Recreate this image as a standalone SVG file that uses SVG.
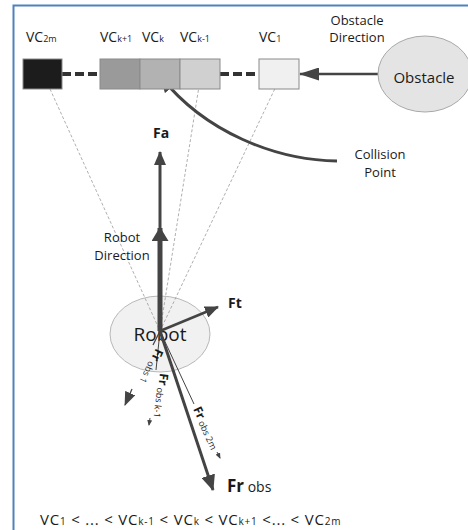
<svg xmlns="http://www.w3.org/2000/svg" width="468" height="530" viewBox="0 0 468 530">
<style>
text{font-family:"Open Sans","Liberation Sans",sans-serif;fill:#1a1a1a;}
.lbl{font-size:14px;}
.two{font-size:13px;}
.sub{font-size:9px;}
.b{font-weight:bold;}
.ray{stroke:#9a9a9a;stroke-width:0.8;stroke-dasharray:3 2;fill:none;}
.link{stroke:#333;stroke-width:4;stroke-dasharray:9 4;fill:none;}
.box{stroke:#8a8a8a;stroke-width:1;}
.force{stroke:#444;fill:none;}
</style>
<defs>
<marker id="hL" markerUnits="userSpaceOnUse" markerWidth="16" markerHeight="14" viewBox="0 0 16 14" refX="15" refY="7" orient="auto"><path d="M0,0 L16,7 L0,14 z" fill="#444"/></marker>
<marker id="hM" markerUnits="userSpaceOnUse" markerWidth="14" markerHeight="12" viewBox="0 0 14 12" refX="13" refY="6" orient="auto"><path d="M0,0 L14,6 L0,12 z" fill="#444"/></marker>
<marker id="hRD" markerUnits="userSpaceOnUse" markerWidth="14" markerHeight="17" viewBox="0 0 14 17" refX="13" refY="8.5" orient="auto"><path d="M0,0 L14,8.5 L0,17 z" fill="#444"/></marker>
<marker id="hO" markerUnits="userSpaceOnUse" markerWidth="20" markerHeight="13" viewBox="0 0 20 13" refX="19" refY="6.5" orient="auto"><path d="M0,0 L20,6.5 L0,13 z" fill="#444"/></marker>
<marker id="hS" markerUnits="userSpaceOnUse" markerWidth="14" markerHeight="11" viewBox="0 0 14 11" refX="13" refY="5.5" orient="auto"><path d="M0,0 L14,5.5 L0,11 z" fill="#444"/></marker>
<marker id="hT" markerUnits="userSpaceOnUse" markerWidth="6" markerHeight="5" viewBox="0 0 6 5" refX="5" refY="2.5" orient="auto"><path d="M0,0 L6,2.5 L0,5 z" fill="#444"/></marker>
</defs>
<rect width="468" height="530" fill="#fff"/>
<path d="M13.5,530 V5.5 H468" fill="none" stroke="#4f81bd" stroke-width="2"/>

<g id="robot">
<ellipse cx="160" cy="334" rx="50" ry="38" fill="#f1f1f1" stroke="#b8b8b8" stroke-width="1"/>
<text x="160" y="341" text-anchor="middle" style="font-size:19px">Robot</text>
</g>

<g id="connectors">
<line class="ray" x1="50" y1="89" x2="160" y2="331"/>
<line class="ray" x1="200" y1="80" x2="160" y2="331"/>
<line class="ray" x1="279" y1="80" x2="160" y2="331"/>
<line class="link" x1="62" y1="74" x2="100" y2="74"/>
<line class="link" x1="220" y1="74" x2="259" y2="74"/>
<line class="force" stroke-width="2.5" x1="378" y1="74" x2="300" y2="74" marker-end="url(#hO)"/>
<path class="force" stroke-width="3" d="M337,161 C275,160 205,132 161,77" marker-end="url(#hL)"/>
<line class="force" stroke-width="5" x1="160" y1="331" x2="160" y2="228" marker-end="url(#hRD)"/>
<line class="force" stroke-width="3" x1="160" y1="240" x2="160" y2="152" marker-end="url(#hM)"/>
<line class="force" stroke-width="2.5" x1="160" y1="331" x2="218" y2="307" marker-end="url(#hM)"/>
<line class="force" stroke-width="3" x1="160" y1="331" x2="213" y2="490" marker-end="url(#hL)"/>
<line class="force" stroke-width="1.2" x1="160" y1="331" x2="153" y2="345"/>
<line class="force" stroke-width="1.2" x1="132" y1="389" x2="125" y2="405" marker-end="url(#hS)"/>
<line class="force" stroke-width="1" x1="160" y1="331" x2="156" y2="370"/>
<line class="force" stroke-width="1" x1="150" y1="418" x2="149" y2="425" marker-end="url(#hT)"/>
<line class="force" stroke-width="1" x1="160" y1="331" x2="194" y2="404"/>
<line class="force" stroke-width="1" x1="217" y1="452" x2="220" y2="458" marker-end="url(#hT)"/>
</g>

<g id="vc2m">
<rect class="box" x="23" y="59" width="39" height="30" fill="#1c1c1c"/>
<text class="lbl" x="26" y="42">VC<tspan class="sub">2m</tspan></text>
</g>
<g id="vck1">
<rect class="box" x="100" y="59" width="40" height="30" fill="#9a9a9a"/>
<text class="lbl" x="100" y="42">VC<tspan class="sub">k+1</tspan></text>
</g>
<g id="vck">
<rect class="box" x="140" y="59" width="40" height="30" fill="#b2b2b2"/>
<text class="lbl" x="142" y="42">VC<tspan class="sub">k</tspan></text>
</g>
<g id="vckm1">
<rect class="box" x="180" y="59" width="40" height="30" fill="#d0d0d0"/>
<text class="lbl" x="180" y="42">VC<tspan class="sub">k-1</tspan></text>
</g>
<g id="vc1">
<rect class="box" x="259" y="59" width="40" height="30" fill="#f0f0f0"/>
<text class="lbl" x="259" y="42">VC<tspan class="sub">1</tspan></text>
</g>

<g id="obstacle">
<ellipse cx="425" cy="74" rx="47" ry="38" fill="#e4e4e4" stroke="#a8a8a8" stroke-width="1"/>
<text x="424" y="83" text-anchor="middle" style="font-size:15px">Obstacle</text>
</g>

<g id="labels">
<text class="two" x="357" y="25" text-anchor="middle">Obstacle</text>
<text class="two" x="357" y="42" text-anchor="middle">Direction</text>
<text class="two" x="380" y="159" text-anchor="middle">Collision</text>
<text class="two" x="380" y="177" text-anchor="middle">Point</text>
<text class="lbl b" x="153" y="138">Fa</text>
<text class="two" x="122" y="242" text-anchor="middle">Robot</text>
<text class="two" x="122" y="260" text-anchor="middle">Direction</text>
<text class="lbl b" x="228" y="308">Ft</text>
<text x="227" y="492"><tspan class="b" style="font-size:17px">Fr</tspan><tspan style="font-size:14px"> obs</tspan></text>
<text transform="translate(156,348) rotate(115)"><tspan class="b" style="font-size:12px">Fr</tspan><tspan style="font-size:9px" dy="1"> obs 1</tspan></text>
<text transform="translate(160,373) rotate(97)"><tspan class="b" style="font-size:12px">Fr</tspan><tspan style="font-size:9px" dy="1"> obs k-1</tspan></text>
<text transform="translate(193,409) rotate(65)"><tspan class="b" style="font-size:12px">Fr</tspan><tspan style="font-size:9px" dy="1"> obs 2m</tspan></text>
<text x="40" y="525" style="font-size:15px;letter-spacing:0.8px">VC<tspan style="font-size:10px">1</tspan> &lt; ... &lt; VC<tspan style="font-size:10px">k-1</tspan> &lt; VC<tspan style="font-size:10px">k</tspan> &lt; VC<tspan style="font-size:10px">k+1</tspan> &lt;... &lt; VC<tspan style="font-size:10px">2m</tspan></text>
</g>
</svg>
